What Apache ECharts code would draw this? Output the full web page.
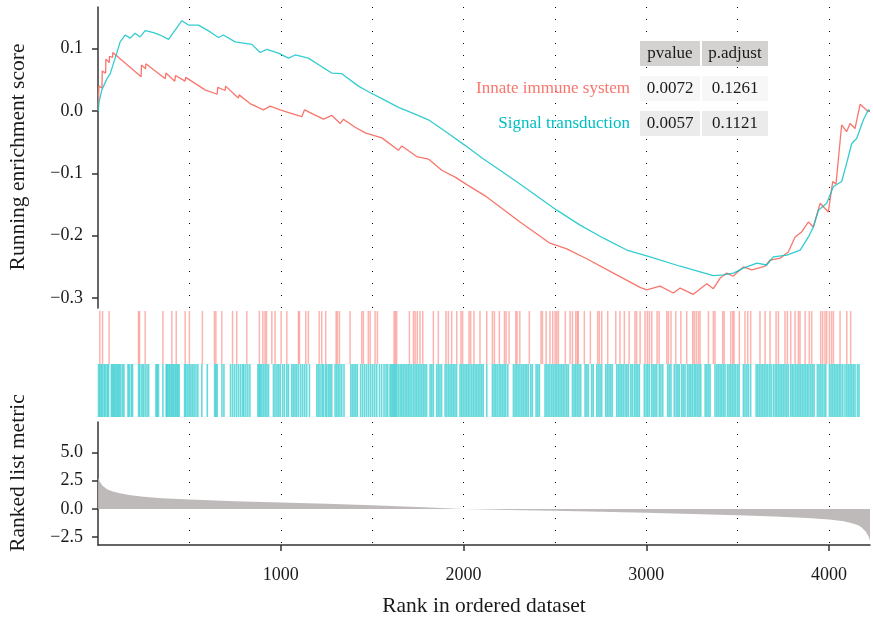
<!DOCTYPE html>
<html><head><meta charset="utf-8">
<script src="https://cdn.jsdelivr.net/npm/echarts@6/dist/echarts.min.js"></script>
<style>html,body{margin:0;padding:0;background:#fff}#c{width:873px;height:620px}</style>
</head><body><div id="c"></div>
<script>
const geneSets = ['Innate immune system', 'Signal transduction'];
const tableHeader = ['pvalue', 'p.adjust'];
const pvalues = ['0.0072', '0.0057'];
const padjust = ['0.1261', '0.1121'];
const xTicks = [1000, 2000, 3000, 4000];
const esTicks = [-0.3, -0.2, -0.1, 0, 0.1];
const metricTicks = [-2.5, 0, 2.5, 5];
const nGenes = 4224;
const titles = { es: 'Running enrichment score', metric: 'Ranked list metric', x: 'Rank in ordered dataset' };

const esInnate = [[1,0],[5,0.04],[22,0.037],[23,0.064],[42,0.061],[43,0.083],[62,0.078],[63,0.088],[80,0.086],[81,0.094],
[236,0.055],[238,0.074],[260,0.068],[262,0.076],[368,0.052],[372,0.061],[420,0.048],[424,0.057],[476,0.048],[480,0.054],
[586,0.034],[652,0.027],[655,0.038],[696,0.033],[698,0.04],[768,0.021],[772,0.026],[832,0.012],[905,0.002],[942,0.008],
[997,0.002],[1061,-0.004],[1115,-0.009],[1130,0.002],[1177,-0.005],[1234,-0.013],[1280,-0.007],[1325,-0.02],[1343,-0.013],
[1407,-0.026],[1462,-0.035],[1553,-0.043],[1644,-0.063],[1662,-0.056],[1744,-0.073],[1808,-0.077],[1881,-0.095],[1954,-0.106],
[2018,-0.118],[2118,-0.136],[2309,-0.178],[2473,-0.212],[2565,-0.221],[2674,-0.237],[2820,-0.26],[2966,-0.283],[3002,-0.287],
[3075,-0.281],[3148,-0.292],[3185,-0.284],[3257,-0.294],[3331,-0.277],[3367,-0.285],[3404,-0.268],[3440,-0.26],[3475,-0.265],
[3531,-0.25],[3578,-0.255],[3650,-0.249],[3677,-0.239],[3732,-0.236],[3777,-0.226],[3814,-0.202],[3850,-0.194],[3887,-0.178],
[3914,-0.186],[3951,-0.148],[3996,-0.162],[4020,-0.113],[4038,-0.117],[4069,-0.022],[4096,-0.033],[4115,-0.02],[4142,-0.028],
[4170,0.011],[4215,-0.001],[4224,0]];

const esSignal = [[1,0],[6,0.015],[21,0.034],[49,0.052],[67,0.06],[85,0.077],[103,0.093],[121,0.111],[149,0.122],[176,0.117],
[203,0.125],[231,0.119],[258,0.129],[304,0.126],[340,0.122],[386,0.115],[422,0.13],[459,0.145],[495,0.138],[550,0.138],
[614,0.127],[659,0.118],[686,0.122],[750,0.111],[842,0.107],[887,0.094],[924,0.099],[987,0.093],[1042,0.085],[1079,0.09],
[1151,0.085],[1225,0.071],[1279,0.061],[1334,0.06],[1425,0.04],[1480,0.031],[1553,0.02],[1644,0.006],[1735,-0.005],
[1808,-0.014],[1917,-0.036],[2008,-0.055],[2109,-0.077],[2200,-0.095],[2328,-0.121],[2510,-0.159],[2638,-0.183],[2766,-0.204],
[2893,-0.223],[3021,-0.234],[3185,-0.249],[3295,-0.258],[3367,-0.264],[3422,-0.263],[3477,-0.26],[3531,-0.252],[3605,-0.244],
[3659,-0.247],[3695,-0.234],[3769,-0.231],[3842,-0.223],[3887,-0.202],[3914,-0.186],[3942,-0.159],[3987,-0.148],[4024,-0.121],
[4069,-0.113],[4096,-0.084],[4124,-0.052],[4151,-0.044],[4188,-0.014],[4215,0.002],[4224,0]];

const hitsInnate = [10,25,61,222,227,258,355,404,428,477,500,571,637,645,677,736,759,814,883,902,914,922,951,969,1002,1033,
1097,1102,1137,1151,1210,1224,1246,1303,1310,1321,1379,1443,1452,1479,1489,1516,1529,1620,1627,1634,1704,1726,1735,1747,1762,1777,
1835,1862,1904,1917,1935,1963,1986,1995,2030,2039,2057,2090,
2127,2158,2169,2196,2224,2233,2249,2286,2293,2308,2360,2424,2432,2452,2473,2488,2501,2510,2519,2557,2583,2596,2614,2623,2628,2661,
2694,2734,2743,2756,2789,2833,2856,2880,2906,2938,2947,2966,2993,3006,3017,3030,3059,3070,3112,3121,3135,3161,
3189,3221,3254,3262,3273,3285,3294,3340,3367,3376,3418,3426,3462,3473,3480,3509,3540,3555,3571,3622,3650,3677,3710,3723,3759,3772,
3790,3814,3832,3841,3869,3892,3905,3954,3965,3978,3987,4002,4014,4024,4060,4097,4118];

const hitsSignal = [3,10,18,25,34,42,51,58,73,80,87,94,102,109,116,124,134,142,164,171,182,189,222,229,240,248,258,268,277,317,324,331,
355,373,379,386,393,401,408,415,423,430,437,444,474,481,490,499,508,517,526,536,546,568,598,638,645,652,678,689,725,736,747,758,769,
780,791,798,809,820,831,875,882,889,897,906,915,924,933,960,969,979,988,997,1010,1020,1033,1042,
1060,1069,1078,1087,1097,1109,1120,1131,1142,1157,1197,1206,1215,1226,1233,1244,1252,1262,1270,1279,1297,1306,1315,1324,1334,1346,
1383,1392,1401,1410,1419,1437,1448,1459,1470,1481,1492,1503,1514,1525,1540,1552,1565,1576,1585,1598,1605,1613,1620,1627,1634,1643,
1653,1662,1671,1680,1689,1698,1707,1716,1726,1735,1744,1753,1762,1771,1780,1789,1798,1817,1826,1835,1853,1862,1871,1880,1899,1908,
1917,1926,1935,1944,1953,1962,1981,1990,1999,2008,2017,2026,2035,2045,2054,2063,2072,2081,2090,2099,2108,
2127,2158,2167,2176,2185,2195,2204,2213,2222,2231,2242,2273,2282,2291,2300,2309,2319,2328,2337,2346,2355,2368,2377,2397,2406,2415,
2446,2455,2464,2473,2483,2492,2501,2510,2519,2528,2537,2546,2555,2565,2574,2596,2605,2614,2623,2632,2641,2665,2674,2683,2701,2710,
2729,2738,2747,2756,2778,2787,2796,2805,2814,2838,2847,2856,2865,2874,2884,2893,2902,2915,2924,2935,2944,2953,2962,2989,2999,3008,
3017,3030,3039,3048,3057,3071,3080,3090,3117,3126,3135,3153,3163,3172,3181,
3194,3203,3212,3225,3234,3243,3252,3262,3271,3280,3289,3298,3322,3331,3340,3349,3376,3386,3395,3404,3413,3422,3431,3444,3453,3462,
3471,3480,3489,3499,3508,3531,3540,3550,3559,3571,3601,3610,3619,3628,3637,3646,3655,3664,3674,3683,3695,3705,3714,3723,3732,3741,
3750,3759,3768,3777,3790,3799,3808,3818,3827,3836,3845,3854,3863,3872,3881,3890,3900,3909,3918,3936,3945,3954,3963,3973,3982,
4002,4011,4020,4029,4038,4047,4056,4065,4075,4087,4097,4106,4115,4124,4133,4142,4155,4164];

const rankedMetric = [[1,2.75],[10,2.4],[25,2.05],[50,1.75],[80,1.55],[120,1.38],[170,1.22],[250,1.07],[350,0.95],[500,0.83],
[750,0.68],[1000,0.57],[1250,0.45],[1500,0.33],[1750,0.17],[2000,0.0],[2250,-0.09],[2500,-0.17],[2750,-0.26],[3000,-0.35],
[3250,-0.45],[3500,-0.57],[3700,-0.68],[3880,-0.8],[4000,-0.95],[4080,-1.1],[4120,-1.24],[4160,-1.45],[4180,-1.67],[4200,-2.0],
[4215,-2.4],[4224,-2.8]];

const FONT = 'Liberation Serif';
const RED = '#F8766D', CYAN = '#00BFC4', INK = '#1a1a1a';
const fmt = v => (v < 0 ? '\u2212' : '') + Math.abs(v).toFixed(1);
const axisLineStyle = { color: '#333', width: 1.5 };
const dotted = { show: true, showMinLine: false, showMaxLine: false, lineStyle: { color: '#000', width: 1, type: [1, 11] } };
const TICK_FS = 18, TITLE_FS = 21.5;

const grids = [
  { left: 98, top: 7, width: 772, height: 301 },
  { left: 98, top: 311, width: 772, height: 106 },
  { left: 98, top: 422, width: 772, height: 123 }
].map(g => Object.assign({ containLabel: false, outerBoundsMode: 'none' }, g));

const xBase = { type: 'value', min: 0, max: nGenes, interval: 500 };
const graphic = [];
const hdrX = [640, 702], hdrW = [60, 66];
tableHeader.forEach((h, i) => {
  graphic.push({ type: 'rect', z: 50, shape: { x: hdrX[i], y: 41, width: hdrW[i], height: 25 }, style: { fill: '#D3D2D0' } });
  graphic.push({ type: 'text', z: 51, x: hdrX[i] + hdrW[i] / 2, y: 54, style: { text: h, font: '17px "' + FONT + '"', fill: INK, align: 'center', verticalAlign: 'middle' } });
});
const rowY = [76, 111], rowFill = ['#F7F7F7', '#EBEBEB'], rowColor = [RED, CYAN];
geneSets.forEach((name, r) => {
  [pvalues[r], padjust[r]].forEach((val, i) => {
    graphic.push({ type: 'rect', z: 50, shape: { x: hdrX[i], y: rowY[r], width: hdrW[i], height: 25 }, style: { fill: rowFill[r] } });
    graphic.push({ type: 'text', z: 51, x: hdrX[i] + hdrW[i] / 2, y: rowY[r] + 12.5, style: { text: val, font: '17px "' + FONT + '"', fill: INK, align: 'center', verticalAlign: 'middle' } });
  });
  graphic.push({ type: 'text', z: 51, x: 630, y: rowY[r] + 12.5, style: { text: name, font: '17px "' + FONT + '"', fill: rowColor[r], align: 'right', verticalAlign: 'middle' } });
});
graphic.push({ type: 'text', x: 18, y: 157, rotation: Math.PI / 2, style: { text: titles.es, font: TITLE_FS + 'px "' + FONT + '"', fill: INK, align: 'center', verticalAlign: 'middle' } });
graphic.push({ type: 'text', x: 18, y: 473, rotation: Math.PI / 2, style: { text: titles.metric, font: TITLE_FS + 'px "' + FONT + '"', fill: INK, align: 'center', verticalAlign: 'middle' } });

const option = {
  animation: false,
  backgroundColor: '#fff',
  textStyle: { fontFamily: FONT },
  grid: grids,
  xAxis: [
    Object.assign({ gridIndex: 0, axisLine: { show: false }, axisTick: { show: false }, axisLabel: { show: false }, splitLine: dotted }, xBase),
    Object.assign({ gridIndex: 1, show: false, splitLine: { show: false } }, xBase),
    Object.assign({ gridIndex: 2, axisLine: { show: true, onZero: false, lineStyle: axisLineStyle },
      axisTick: { show: true, length: 6, lineStyle: axisLineStyle, customValues: xTicks },
      axisLabel: { show: true, customValues: xTicks, formatter: v => String(v), fontFamily: FONT, fontSize: TICK_FS, color: INK, margin: 21 },
      splitLine: { show: false },
      name: titles.x, nameLocation: 'middle', nameGap: 50,
      nameTextStyle: { fontFamily: FONT, fontSize: TITLE_FS, color: INK } }, xBase),
    Object.assign({ gridIndex: 2, axisLine: { show: false }, axisTick: { show: false }, axisLabel: { show: false }, splitLine: dotted }, xBase)
  ],
  yAxis: [
    { gridIndex: 0, type: 'value', min: -0.316, max: 0.167,
      axisLine: { show: true, lineStyle: axisLineStyle },
      axisTick: { show: true, length: 6, lineStyle: axisLineStyle, customValues: esTicks },
      axisLabel: { show: true, customValues: esTicks, formatter: fmt, fontFamily: FONT, fontSize: TICK_FS, color: INK, margin: 15 },
      splitLine: { show: false } },
    { gridIndex: 1, type: 'value', min: 0, max: 2, show: false },
    { gridIndex: 2, type: 'value', min: -3.2, max: 7.7,
      axisLine: { show: true, lineStyle: axisLineStyle },
      axisTick: { show: true, length: 6, lineStyle: axisLineStyle, customValues: metricTicks },
      axisLabel: { show: true, customValues: metricTicks, formatter: fmt, fontFamily: FONT, fontSize: TICK_FS, color: INK, margin: 15 },
      splitLine: { show: false } }
  ],
  series: [
    { type: 'line', xAxisIndex: 0, yAxisIndex: 0, data: esInnate, showSymbol: false, symbol: 'none', lineStyle: { color: RED, width: 1.3 }, z: 3 },
    { type: 'line', xAxisIndex: 0, yAxisIndex: 0, data: esSignal, showSymbol: false, symbol: 'none', lineStyle: { color: CYAN, width: 1.3, opacity: 0.8 }, z: 3 },
    { type: 'scatter', xAxisIndex: 1, yAxisIndex: 1, data: hitsInnate.map(r => [r, 1.5]), symbol: 'rect', symbolSize: [1.5, 53],
      itemStyle: { color: RED, opacity: 0.55 }, silent: true },
    { type: 'scatter', xAxisIndex: 1, yAxisIndex: 1, data: hitsSignal.map(r => [r, 0.5]), symbol: 'rect', symbolSize: [1.6, 53],
      itemStyle: { color: CYAN, opacity: 0.6 }, silent: true },
    { type: 'line', xAxisIndex: 2, yAxisIndex: 2, data: rankedMetric, showSymbol: false, symbol: 'none',
      lineStyle: { width: 0 }, areaStyle: { color: '#BFBABA', opacity: 1, origin: 0 }, z: 1 }
  ],
  graphic: graphic
};
const chart = echarts.init(document.getElementById('c'), null, { renderer: 'canvas' });
chart.setOption(option);
</script></body></html>
